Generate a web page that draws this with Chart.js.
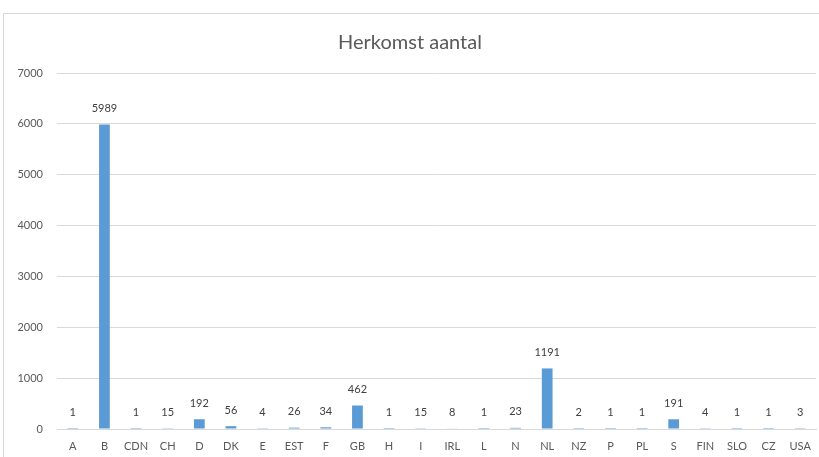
<!DOCTYPE html>
<html>
<head>
<meta charset="utf-8">
<script src="https://cdn.jsdelivr.net/npm/chart.js@4.4.1/dist/chart.umd.min.js"></script>
<style>
  html, body { margin: 0; padding: 0; background: #fff; overflow: hidden; }
  #kader {
    position: absolute; left: 3px; top: 13px;
    width: 840px; height: 460px;
    border: 1px solid #d9d9d9; box-sizing: border-box;
  }
  #grafiek { position: absolute; left: 0; top: 0; }
</style>
</head>
<body>
<div id="kader"><canvas id="grafiek" width="828" height="444"></canvas></div>
<script>
// Landen (herkomst) en aantallen
const landen = ['A', 'B', 'CDN', 'CH', 'D', 'DK', 'E', 'EST', 'F', 'GB', 'H', 'I',
                'IRL', 'L', 'N', 'NL', 'NZ', 'P', 'PL', 'S', 'FIN', 'SLO', 'CZ', 'USA'];
const aantallen = [1, 5989, 1, 15, 192, 56, 4, 26, 34, 462, 1, 15,
                   8, 1, 23, 1191, 2, 1, 1, 191, 4, 1, 1, 3];
const titel = 'Herkomst aantal';
const yMax = 7000;
const yStap = 1000;

const lettertype = 'Lato, "Open Sans", sans-serif';

// Waarden boven de staven tekenen
const waardeLabels = {
    id: 'waardeLabels',
    afterDatasetsDraw(chart) {
        const ctx = chart.ctx;
        const meta = chart.getDatasetMeta(0);
        ctx.save();
        ctx.font = '11px ' + lettertype;
        ctx.fillStyle = '#404040';
        ctx.textAlign = 'center';
        ctx.textBaseline = 'middle';
        meta.data.forEach((bar, i) => {
            ctx.fillText(String(aantallen[i]), bar.x, bar.y - 16);
        });
        ctx.restore();
    }
};

const ctx = document.getElementById('grafiek').getContext('2d');
new Chart(ctx, {
    type: 'bar',
    data: {
        labels: landen,
        datasets: [{
            label: titel,
            data: aantallen,
            backgroundColor: '#5b9bd5',
            barPercentage: 0.34,
            categoryPercentage: 1.0
        }]
    },
    options: {
        responsive: false,
        animation: false,
        layout: { padding: { left: 0, right: 16, top: 0, bottom: 0 } },
        plugins: {
            legend: { display: false },
            tooltip: { enabled: false },
            title: {
                display: true,
                text: titel,
                color: '#595959',
                font: { family: lettertype, size: 20, weight: 'normal' },
                padding: { top: 17, bottom: 18 }
            }
        },
        scales: {
            x: {
                grid: { display: false, drawTicks: false },
                border: { display: true, color: '#d9d9d9' },
                afterFit: (schaal) => { schaal.height = 29; },
                ticks: {
                    color: '#595959',
                    font: { family: lettertype, size: 11 },
                    padding: 11,
                    autoSkip: false,
                    maxRotation: 0
                }
            },
            y: {
                min: 0,
                max: yMax,
                grid: { color: '#d9d9d9', drawTicks: false },
                border: { display: false },
                afterFit: (schaal) => { schaal.width = 53; },
                ticks: {
                    stepSize: yStap,
                    color: '#595959',
                    font: { family: lettertype, size: 11 },
                    padding: 14,
                    callback: (waarde) => String(waarde)
                }
            }
        }
    },
    plugins: [waardeLabels]
});
</script>
</body>
</html>
